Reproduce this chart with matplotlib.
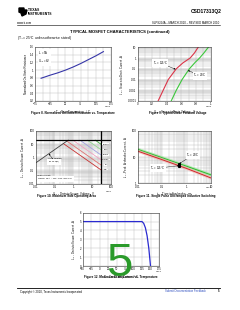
import matplotlib
matplotlib.use('Agg')
import matplotlib.pyplot as plt
from matplotlib.lines import Line2D
from matplotlib.patches import Polygon
from matplotlib.ticker import LogLocator, NullFormatter, FixedLocator, FormatStrFormatter

plt.rcParams['font.family'] = ['Liberation Sans', 'DejaVu Sans']

# Figure 8 - normalized Rds(on) vs temperature
temp8 = [-55, -25, 0, 25, 50, 75, 100, 125, 150]
rds8 = [0.79, 0.87, 0.93, 1.0, 1.08, 1.17, 1.27, 1.37, 1.48]

# Figure 9 - diode forward voltage
vsd_hot = [0.28, 0.35, 0.42, 0.53, 0.62, 0.72, 0.78, 0.83]
isd_hot = [1e-4, 1e-3, 1e-2, 0.1, 0.35, 1, 3, 10]
vsd_25 = [0.46, 0.53, 0.61, 0.71, 0.79, 0.85, 0.91, 0.97]
isd_25 = [1e-4, 1e-3, 1e-2, 0.1, 0.4, 1, 3, 10]

# Figure 10 - safe operating area
rds_v = [0.01, 0.54]
rds_i = [0.37, 20]
i_limit = 20
bv_dss = 30
soa_labels = ['100µs', '1ms', '10ms', '100ms', '1s', 'DC']
soa_v0 = [15, 5.7, 2.3, 0.96, 0.46, 0.30]
soa_i0 = [20, 20, 20, 20, 17, 11]
soa_i1 = [10, 3.8, 1.5, 0.64, 0.26, 0.11]
soa_colors = ['#3aa83a', '#8fd88f', '#a0a0e0', '#f0a0c0', '#e07070', '#c83030']

# Figure 11 - unclamped inductive switching
tav = [0.01, 0.1, 1, 10]
iav_25 = [20, 9.5, 4.5, 2.1]
iav_125 = [17, 8, 3.7, 1.6]
mark_t = 0.5
mark_i25 = 5.6
mark_i125 = 4.7

# Figure 12 - max drain current vs temperature
tc12 = [-50, 125, 130, 135, 140, 145, 150]
id12 = [5, 5, 4.8, 4.3, 3.4, 2.0, 0]

W, H = 240, 310
fig = plt.figure(figsize=(2.4, 3.1), dpi=100)
fig.patch.set_facecolor('white')

FS_TICK = 2.0
FS_LAB = 2.0
FS_CAP = 2.15


def px_axes(x0, y0, x1, y1):
    return fig.add_axes([x0 / W, 1 - y1 / H, (x1 - x0) / W, (y1 - y0) / H])


def px_text(x, y, s, **kw):
    fig.text(x / W, 1 - y / H, s, **kw)


def px_line(x0, x1, y, lw):
    fig.add_artist(Line2D([x0 / W, x1 / W], [1 - y / H, 1 - y / H], lw=lw, color='k'))


def style(ax):
    ax.tick_params(which='both', labelsize=FS_TICK, length=0, pad=1)
    for sp in ax.spines.values():
        sp.set_linewidth(0.4)
        sp.set_color('#333333')
    ax.grid(True, which='both', color='#b8b8b8', lw=0.3)
    ax.set_axisbelow(True)


def log_minor(ax, axis):
    loc = LogLocator(base=10, subs=range(2, 10))
    if axis == 'x':
        ax.xaxis.set_minor_locator(loc)
        ax.xaxis.set_minor_formatter(NullFormatter())
    else:
        ax.yaxis.set_minor_locator(loc)
        ax.yaxis.set_minor_formatter(NullFormatter())


# ---- header ----
fig.add_artist(Polygon([(19 / W, 1 - 8 / H), (24 / W, 1 - 8 / H), (24 / W, 1 - 10 / H),
                        (27 / W, 1 - 10 / H), (26 / W, 1 - 14 / H), (22 / W, 1 - 16 / H),
                        (21 / W, 1 - 13 / H), (19 / W, 1 - 12 / H)],
                       closed=True, color='k', transform=fig.transFigure))
px_text(28, 12, 'TEXAS\nINSTRUMENTS', fontsize=2.4, weight='bold', va='center', linespacing=0.9)
px_text(222, 12, 'CSD17313Q2', fontsize=3.6, weight='bold', ha='right', va='center')
px_text(17, 23.3, 'www.ti.com', fontsize=2.0, va='center')
px_text(219, 23.3, 'SLPS264A \u2013 MARCH 2010 \u2013 REVISED MARCH 2010', fontsize=2.0,
        ha='right', va='center')
px_line(17, 220, 25.2, 0.4)
px_text(120, 31.7, 'TYPICAL MOSFET CHARACTERISTICS (continued)', fontsize=3.0,
        weight='bold', ha='center', va='center')
px_text(17, 37.7, '(T$_A$ = 25°C unless otherwise stated)', fontsize=2.4, va='center')

# ---- Figure 8 ----
ax8 = px_axes(35, 47, 111, 101)
style(ax8)
ax8.plot(temp8, rds8, color='#3636a8', lw=0.8)
ax8.set_xlim(-75, 175)
ax8.set_ylim(0.2, 1.6)
ax8.set_xticks(range(-75, 176, 50))
ax8.xaxis.set_minor_locator(FixedLocator(range(-50, 176, 50)))
ax8.set_yticks([0.2, 0.4, 0.6, 0.8, 1.0, 1.2, 1.4, 1.6])
ax8.yaxis.set_major_formatter(FormatStrFormatter('%g'))
ax8.set_xlabel('T$_C$ - Case Temperature - °C', fontsize=FS_LAB, labelpad=1)
ax8.set_ylabel('Normalized On-State Resistance', fontsize=FS_LAB, labelpad=1)
ax8.text(0.04, 0.96, 'I$_D$ = 5A\nV$_{GS}$ = 8V', transform=ax8.transAxes, fontsize=1.9,
         va='top', bbox=dict(fc='white', ec='none', pad=0.3))
px_text(111, 106.5, 'G008', fontsize=1.7, ha='right', va='center')
px_text(73, 112.7, 'Figure 8. Normalized On-State Resistance vs. Temperature',
        fontsize=FS_CAP, weight='bold', ha='center', va='center')

# ---- Figure 9 ----
ax9 = px_axes(137.7, 47.3, 210.5, 101)
style(ax9)
ax9.set_yscale('log')
log_minor(ax9, 'y')
ax9.plot(vsd_hot, isd_hot, color='#dc3448', lw=0.8)
ax9.plot(vsd_25, isd_25, color='#3cc83c', lw=0.8)
ax9.set_xlim(0, 1)
ax9.set_ylim(1e-4, 10)
ax9.set_xticks([0, 0.2, 0.4, 0.6, 0.8, 1.0])
ax9.xaxis.set_minor_locator(FixedLocator([0.1, 0.3, 0.5, 0.7, 0.9]))
ax9.xaxis.set_major_formatter(FormatStrFormatter('%g'))
ax9.set_yticks([1e-4, 1e-3, 1e-2, 0.1, 1, 10])
ax9.set_yticklabels(['0.0001', '0.001', '0.01', '0.1', '1', '10'])
ax9.set_xlabel('V$_{SD}$ - Source-to-Drain Voltage - V', fontsize=FS_LAB, labelpad=1)
ax9.set_ylabel('I$_{SD}$ - Source-to-Drain Current - A', fontsize=FS_LAB, labelpad=1)
arrow = dict(arrowstyle='-|>', lw=0.3, color='k', mutation_scale=2, shrinkA=0, shrinkB=0)
ax9.annotate('T$_C$ = 125°C', xy=(0.52, 0.09), xytext=(0.31, 0.35), fontsize=1.9,
             ha='center', va='center', arrowprops=arrow,
             bbox=dict(fc='white', ec='none', pad=0.2))
ax9.annotate('T$_C$ = 25°C', xy=(0.69, 0.07), xytext=(0.86, 0.023), fontsize=1.9,
             ha='center', va='center', arrowprops=arrow,
             bbox=dict(fc='white', ec='none', pad=0.2))
px_text(212, 106.5, 'G009', fontsize=1.7, ha='right', va='center')
px_text(178, 112.7, 'Figure 9. Typical Diode Forward Voltage',
        fontsize=FS_CAP, weight='bold', ha='center', va='center')

# ---- Figure 10 ----
ax10 = px_axes(35.7, 131, 110.7, 183.5)
style(ax10)
ax10.set_xscale('log')
ax10.set_yscale('log')
log_minor(ax10, 'x')
log_minor(ax10, 'y')
for lab, v0, i0, i1, c in zip(soa_labels, soa_v0, soa_i0, soa_i1, soa_colors):
    ax10.plot([v0, bv_dss], [i0, i1], color=c, lw=0.6)
    ax10.text(55, i1, lab, fontsize=1.7, ha='center', va='center',
              bbox=dict(fc='white', ec='none', pad=0.1))
ax10.plot(rds_v, rds_i, color='#404040', lw=0.6)
ax10.axhline(i_limit, color='k', lw=0.9)
ax10.axvline(bv_dss, color='k', lw=0.9)
ax10.set_xlim(0.01, 100)
ax10.set_ylim(0.01, 100)
ticks10 = [0.01, 0.1, 1, 10, 100]
ax10.set_xticks(ticks10)
ax10.set_xticklabels(['0.01', '0.1', '1', '10', '100'])
ax10.set_yticks(ticks10)
ax10.set_yticklabels(['0.01', '0.1', '1', '10', '100'])
ax10.annotate('Area Limited\nby R$_{DS(on)}$', xy=(0.05, 1.85), xytext=(0.1, 0.5),
              fontsize=1.7, ha='center', va='center', arrowprops=arrow,
              bbox=dict(fc='white', ec='none', pad=0.2))
ax10.text(0.012, 0.014, 'Single Pulse\nTypical R$_{\\theta JA}$ = 250°C/W (min Cu)',
          fontsize=1.7, ha='left', va='bottom', bbox=dict(fc='white', ec='none', pad=0.3))
ax10.set_xlabel('V$_{DS}$ - Drain-to-Source Voltage - V', fontsize=FS_LAB, labelpad=1)
ax10.set_ylabel('I$_{DS}$ - Drain-to-Source Current - A', fontsize=FS_LAB, labelpad=1)
px_text(112, 191, 'G010', fontsize=1.7, ha='right', va='center')
px_text(66, 196, 'Figure 10. Maximum Safe Operating Area',
        fontsize=FS_CAP, weight='bold', ha='center', va='center')

# ---- Figure 11 ----
ax11 = px_axes(137.7, 131, 211, 183.3)
style(ax11)
ax11.set_xscale('log')
ax11.set_yscale('log')
log_minor(ax11, 'x')
log_minor(ax11, 'y')
ax11.plot(tav, iav_25, color='#9ae69a', lw=2.2, alpha=0.7)
ax11.plot(tav, iav_25, color='#2fb82f', lw=0.7)
ax11.plot(tav, iav_125, color='#f0a0a0', lw=2.2, alpha=0.5)
ax11.plot(tav, iav_125, color='#d02828', lw=0.7)
ax11.plot([mark_t, mark_t], [mark_i25, mark_i125], 's', color='k', ms=1.2)
ax11.set_xlim(0.01, 10)
ax11.set_ylim(1, 100)
ax11.set_xticks([0.01, 0.1, 1, 10])
ax11.set_xticklabels(['0.01', '0.1', '1', '10'])
ax11.set_yticks([1, 10, 100])
ax11.set_yticklabels(['1', '10', '100'])
ax11.annotate('T$_C$ = 25°C', xy=(mark_t, mark_i25), xytext=(1.8, 12), fontsize=1.9,
              ha='center', va='center', arrowprops=arrow,
              bbox=dict(fc='white', ec='none', pad=0.2))
ax11.annotate('T$_C$ = 125°C', xy=(mark_t, mark_i125), xytext=(0.068, 3.85), fontsize=1.9,
              ha='center', va='center', arrowprops=arrow,
              bbox=dict(fc='white', ec='none', pad=0.2))
ax11.set_xlabel('t$_{AV}$ - Time in Avalanche - ms', fontsize=FS_LAB, labelpad=1)
ax11.set_ylabel('I$_{AV}$ - Peak Avalanche Current - A', fontsize=FS_LAB, labelpad=1)
px_text(212, 187, 'G011', fontsize=1.7, ha='right', va='center')
px_text(176, 196, 'Figure 11. Single Pulse Unclamped Inductive Switching',
        fontsize=FS_CAP, weight='bold', ha='center', va='center')

# ---- Figure 12 ----
ax12 = px_axes(82.5, 212.7, 159, 266)
style(ax12)
ax12.plot(tc12, id12, color='#2a2ad0', lw=0.9)
ax12.set_xlim(-50, 175)
ax12.set_ylim(0, 6)
ax12.set_xticks(range(-50, 176, 25))
ax12.set_yticks(range(0, 7))
ax12.set_xlabel('T$_C$ - Case Temperature - °C', fontsize=FS_LAB, labelpad=1)
ax12.set_ylabel('I$_{DS}$ - Drain-to-Source Current - A', fontsize=FS_LAB, labelpad=1)
px_text(162, 272, 'G012', fontsize=1.7, ha='right', va='center')
px_text(121, 277, 'Figure 12. Maximum Drain Current vs. Temperature',
        fontsize=FS_CAP, weight='bold', ha='center', va='center')

# page number overlay
px_text(119, 264, '5', fontsize=34, color='#2a9a2a', ha='center', va='center')

# ---- footer ----
px_line(17, 220, 288, 0.6)
px_text(20, 291.5, 'Copyright © 2010, Texas Instruments Incorporated', fontsize=2.0, va='center')
px_text(206, 291.5, 'Submit Documentation Feedback', fontsize=2.0, color='#3050c0',
        ha='right', va='center')
px_text(220, 291.5, '5', fontsize=2.2, weight='bold', ha='right', va='center')

fig.savefig('out.png', dpi=100)
